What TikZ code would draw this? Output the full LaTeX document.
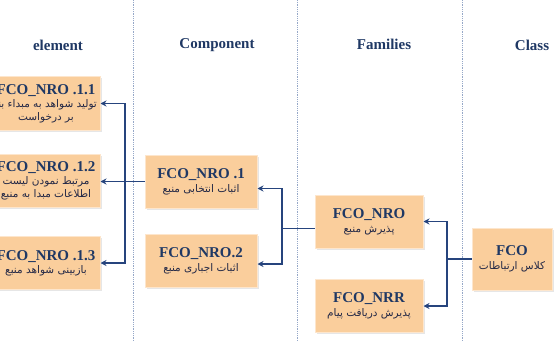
\documentclass[tikz,border=0pt]{standalone}
\usepackage{fontspec}
\setmainfont{Liberation Serif}
\newfontfamily\farsi[Script=Arabic]{DejaVu Sans}
\TeXXeTstate=1
\usetikzlibrary{arrows.meta,positioning,shadows}
\definecolor{boxfill}{RGB}{250,206,156}
\definecolor{boxedge}{RGB}{253,230,205}
\definecolor{navy}{RGB}{31,56,100}
\definecolor{fatextcol}{RGB}{35,40,70}
\definecolor{wire}{RGB}{38,68,125}
\definecolor{divider}{RGB}{150,168,200}
\newcommand{\fatext}[1]{{\color{fatextcol}\farsi\fontsize{10.5}{12}\selectfont\beginR #1\endR}}
\newcommand{\boxtitle}[1]{{\fontsize{15}{16}\selectfont\bfseries #1}}

\begin{document}
\begin{tikzpicture}[x=1pt,y=-1pt,
    box/.style={
      rectangle,
      fill=boxfill, draw=boxedge, line width=1pt,
      align=center, text=navy, inner sep=2pt,
      drop shadow={shadow xshift=1.5pt, shadow yshift=-1.5pt, opacity=0.2}
    },
    elembox/.style={box, minimum width=108pt, minimum height=53pt},
    compbox/.style={box, minimum width=112pt, minimum height=53pt},
    famibox/.style={box, minimum width=108pt, minimum height=53pt},
    classbox/.style={box, minimum width=80pt, minimum height=62pt},
    header/.style={text=navy, font=\fontsize{15}{17}\selectfont\bfseries},
    divline/.style={divider, densely dotted, line width=0.8pt},
    wireline/.style={wire, line width=1.6pt},
    arrow/.style={wireline, -{Stealth[length=6pt,width=6pt]}},
    twoarrow/.style={wireline, {Stealth[length=6pt,width=6pt]}-{Stealth[length=6pt,width=6pt]}}
  ]
  \useasboundingbox (0,0) rectangle (556,342);
  \clip (0,0) rectangle (556,342);

  % column titles
  \node[header] (helement) at (58,45) {element};
  \node[header] (hcomponent) at (217,45) {Component};
  \node[header] (hfamilies) at (384,44) {Families};
  \node[header] (hclass) at (532,45) {Class};

  % column dividers
  \draw[divline] (133,0) -- (133,342);
  \draw[divline] (297,0) -- (297,342);
  \draw[divline] (462,0) -- (462,342);

  % element
  \node[elembox] (nro11) at (46,103.5) {\boxtitle{FCO\_NRO .1.1}\\[1pt]
    \fatext{تولید شواهد به مبداء بنا}\\[1pt] \fatext{بر درخواست}};
  \node[elembox] (nro12) at (46,181) {\boxtitle{FCO\_NRO .1.2}\\[1pt]
    \fatext{مرتبط نمودن لیست}\\[1pt] \fatext{اطلاعات مبدا به منبع}};
  \node[elembox] (nro13) at (46,263) {\boxtitle{FCO\_NRO .1.3}\\[1pt]
    \fatext{بازبینی شواهد منبع}};

  % component
  \node[compbox] (nro1) at (201,181.5) {\boxtitle{FCO\_NRO .1}\\[2pt]
    \fatext{اثبات انتخابی منبع}};
  \node[compbox] (nro2) at (201,261) {\boxtitle{FCO\_NRO.2}\\[2pt]
    \fatext{اثبات اجباری منبع}};

  % families
  \node[famibox] (fnro) at (369,221.5) {\boxtitle{FCO\_NRO}\\[2pt]
    \fatext{پذیرش منبع}};
  \node[famibox] (fnrr) at (369,306) {\boxtitle{FCO\_NRR}\\[2pt]
    \fatext{پذیرش دریافت پیام}};

  % class
  \node[classbox] (fco) at (512,259) {\boxtitle{FCO}\\[2pt]
    \fatext{کلاس ارتباطات}};

  % connectors
  \coordinate (ebus) at (125,0);
  \coordinate (cbus) at (282,0);
  \coordinate (fbus) at (447,0);
  \draw[arrow] (nro1.west) -- (nro1.west -| nro12.east);
  \draw[twoarrow] (nro11.east) -- (nro11.east -| ebus) -- (nro13.east -| ebus) -- (nro13.east);
  \draw[wireline] ([yshift=-7pt]fnro.west) -- ([yshift=-7pt]fnro.west -| cbus);
  \draw[twoarrow] ([yshift=-7pt]nro1.east) -- ([yshift=-7pt]nro1.east -| cbus)
    -- ([yshift=-3pt]nro2.east -| cbus) -- ([yshift=-3pt]nro2.east);
  \draw[wireline] (fco.west) -- (fco.west -| fbus);
  \draw[twoarrow] (fnro.east) -- (fnro.east -| fbus) -- (fnrr.east -| fbus) -- (fnrr.east);
\end{tikzpicture}
\end{document}
